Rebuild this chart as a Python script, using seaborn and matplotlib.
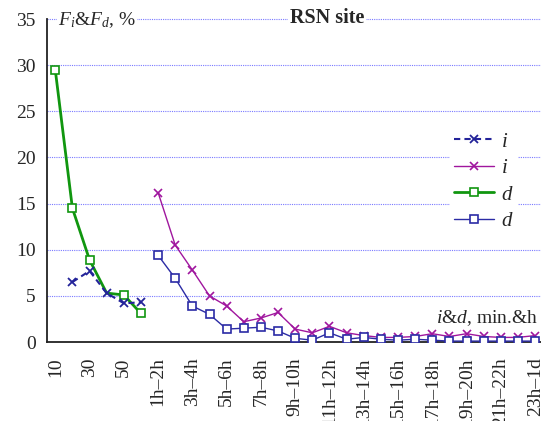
"""
Courbes F_i & F_d pour le site RSN (minutes puis heures).
"""

import numpy as np
import matplotlib
matplotlib.use("Agg")
import matplotlib.pyplot as plt
from matplotlib.lines import Line2D
import seaborn as sns

# categories: minutes then hour intervals
categories = ['10', '20', '30', '40', '50', '60',
              '1h–2h', '2h–3h', '3h–4h', '4h–5h', '5h–6h', '6h–7h', '7h–8h',
              '8h–9h', '9h–10h', '10h–11h', '11h–12h', '12h–13h', '13h–14h',
              '14h–15h', '15h–16h', '16h–17h', '17h–18h', '18h–19h', '19h–20h',
              '20h–21h', '21h–22h', '22h–23h', '23h–1d']

# minutes part (categories 10..60)
i_min = [np.nan, 6.5, 7.7, 5.3, 4.2, 4.3]
d_min = [29.5, 14.5, 8.9, 5.3, 5.1, 3.1]

# hours part (1h-2h .. 23h-1d)
i_hour = [16.2, 10.5, 7.8, 5.0, 3.9, 2.2, 2.6, 3.2, 1.4, 1.0, 1.7, 1.0,
          0.7, 0.5, 0.5, 0.6, 0.9, 0.6, 0.9, 0.6, 0.5, 0.5, 0.7]
d_hour = [9.4, 6.9, 3.9, 3.0, 1.4, 1.5, 1.6, 1.2, 0.4, 0.2, 1.0, 0.3,
          0.5, 0.3, 0.2, 0.3, 0.2, 0.1, 0.1, 0.1, 0.1, 0.1, 0.1]

y_ticks = [0, 5, 10, 15, 20, 25, 30, 35]

sns.set_style("white")
plt.rcParams['font.family'] = ['Liberation Serif', 'DejaVu Serif']
plt.rcParams['mathtext.fontset'] = 'custom'
plt.rcParams['mathtext.it'] = 'Liberation Serif:italic'
plt.rcParams['mathtext.rm'] = 'Liberation Serif'

c_navy = '#232399'
c_purple = '#a0169e'
c_green = '#10960f'
c_blue = '#2b2ba5'

fig = plt.figure(figsize=(5.41, 4.21), dpi=100)
ax = fig.add_axes([0.0863, 0.1876, 0.9187, 0.7672])

x_min = np.arange(len(i_min))
x_hour = np.arange(len(i_min), len(i_min) + len(i_hour))

# green d (minutes)
sns.lineplot(x=x_min, y=d_min, ax=ax, color=c_green, linewidth=2,
             marker='s', markersize=6, markerfacecolor='white',
             markeredgecolor=c_green, markeredgewidth=1.2,
             markevery=[0, 1, 2, 4, 5], estimator=None, sort=False,
             legend=False, zorder=3)
# navy i (minutes), dashed
sns.lineplot(x=x_min, y=i_min, ax=ax, color=c_navy, linewidth=1.5,
             linestyle=(0, (3, 2)), marker='x', markersize=6,
             markeredgecolor=c_navy, markeredgewidth=1.3,
             estimator=None, sort=False, legend=False, zorder=4)
# purple i (hours)
sns.lineplot(x=x_hour, y=i_hour, ax=ax, color=c_purple, linewidth=1,
             marker='x', markersize=6, markeredgecolor=c_purple,
             markeredgewidth=1.2, estimator=None, sort=False,
             legend=False, zorder=3)
# blue d (hours)
sns.lineplot(x=x_hour, y=d_hour, ax=ax, color=c_blue, linewidth=1,
             marker='s', markersize=6, markerfacecolor='white',
             markeredgecolor=c_blue, markeredgewidth=1.2,
             estimator=None, sort=False, legend=False, zorder=4)

ax.set_xlim(-0.5, len(categories) - 0.5)
ax.set_ylim(0, 35)
ax.set_xlabel('')
ax.set_ylabel('')

for s in ['top', 'right']:
    ax.spines[s].set_visible(False)
for s in ['left', 'bottom']:
    ax.spines[s].set_color('#222222')
    ax.spines[s].set_linewidth(1.3)

ax.set_yticks(y_ticks)
ax.set_yticklabels([str(v) for v in y_ticks], fontsize=14)
ax.tick_params(axis='y', direction='inout', length=8, width=1.2,
               color='#222222', pad=4)

pos = list(range(0, len(categories), 2))
ax.set_xticks(pos)
ax.set_xticklabels([categories[p] for p in pos], rotation=90, fontsize=14,
                   va='top')
ax.tick_params(axis='x', which='major', length=0, pad=11)
ax.set_xticks(np.arange(1.5, len(categories) - 1, 2), minor=True)
ax.tick_params(axis='x', which='minor', direction='inout', length=8,
               width=1.2, color='#222222')

for v in y_ticks[1:]:
    ax.axhline(v, color='#7a7aff', linestyle=(0, (1, 1)), linewidth=0.8,
               zorder=1, clip_on=False)

white = dict(facecolor='white', edgecolor='none', pad=1)
ax.text(58 / 541, 1 - 20 / 421, r'$F_i$&$F_d$, %', transform=fig.transFigure,
        fontsize=14, ha='left', va='center', bbox=white, zorder=5)
ax.text(327 / 541, 1 - 18 / 421, 'RSN site', transform=fig.transFigure,
        fontsize=14.5, fontweight='bold', ha='center', va='center',
        bbox=white, zorder=5)
ax.text(538 / 541, 1 - 318 / 421, r'$i$&$d$, min.&h', transform=fig.transFigure,
        fontsize=14, ha='right', va='center', zorder=5)

handles = [
    Line2D([], [], color=c_navy, linestyle=(0, (3, 2)), linewidth=1.5,
           marker='x', markersize=6, markeredgewidth=1.3),
    Line2D([], [], color=c_purple, linewidth=1, marker='x', markersize=6,
           markeredgewidth=1.2),
    Line2D([], [], color=c_green, linewidth=2, marker='s', markersize=6,
           markerfacecolor='white', markeredgewidth=1.2),
    Line2D([], [], color=c_blue, linewidth=1, marker='s', markersize=6,
           markerfacecolor='white', markeredgewidth=1.2),
]
leg = fig.legend(handles, ['$i$', '$i$', '$d$', '$d$'], loc='upper left',
                 bbox_to_anchor=(450 / 541, 1 - 128 / 421), fontsize=15,
                 frameon=True, facecolor='white', edgecolor='none',
                 framealpha=1, fancybox=False, handlelength=1.9,
                 handletextpad=0.35, labelspacing=0.33, borderpad=0.2,
                 borderaxespad=0)

fig.savefig('out.png', dpi=100)
